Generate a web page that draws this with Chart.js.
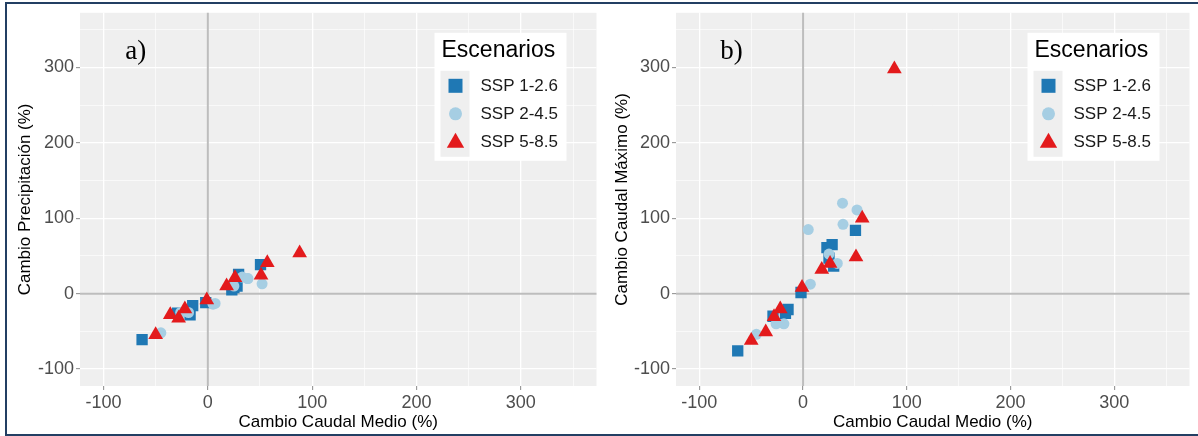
<!DOCTYPE html>
<html>
<head>
<meta charset="utf-8">
<script src="https://cdn.jsdelivr.net/npm/chart.js@4"></script>
<style>
html,body{margin:0;padding:0;background:#ffffff;}
#wrap{position:relative;width:1198px;height:436px;overflow:hidden;background:#fff;}
#ca{position:absolute;left:0;top:0;}
#cb{position:absolute;left:605px;top:0;}
#frame{position:absolute;left:5px;top:2px;width:1200px;height:430px;border:2px solid #233f63;pointer-events:none;}
</style>
</head>
<body>
<div id="wrap">
<canvas id="ca" width="605" height="436"></canvas>
<canvas id="cb" width="593" height="436"></canvas>
<div id="frame"></div>
</div>
<script>
// ---- Data ----
const seriesLabels = ['SSP 1-2.6', 'SSP 2-4.5', 'SSP 5-8.5'];
const legendTitle = 'Escenarios';
const panelLabels = ['a)', 'b)'];
const xTitle = 'Cambio Caudal Medio (%)';
const yTitles = ['Cambio Precipitación (%)', 'Cambio Caudal Máximo (%)'];
const tickValues = [-100, 0, 100, 200, 300];

// SSP 1-2.6
const caudalMedio_126 = [-63, -29, -17, -14.5, -2, 23, 25, 28, 29.5, 50.5];
const precip_126      = [-61, -26, -28, -16, -12, 5, 8, 10, 25.5, 38.5];
const caudalMax_126   = [-76, -30, -26, -21, 1.5, 61, 47, 65, 36.5, 84];
// SSP 2-4.5
const caudalMedio_245 = [-45, -26, -18.5, 5, 7, 25, 33, 38, 38.5, 52];
const precip_245      = [-52, -25, -25, -14, -13, 10, 22, 20, 20, 13];
const caudalMax_245   = [-54, -40, -40, 85, 12.5, 52.5, 40, 120, 92, 111];
// SSP 5-8.5
const caudalMedio_585 = [-50, -36, -28, -22, -1, 18, 26, 51, 57, 88];
const precip_585      = [-54.5, -28, -32.5, -20.5, -8.5, 10, 21, 24.5, 41, 54];
const caudalMax_585   = [-62, -51, -30.5, -20.5, 8, 32, 40, 48.5, 100, 298];

// ---- Styling ----
const FONT = '"Liberation Sans", Arial, Helvetica, sans-serif';
const AXIS_MIN = -122.5, AXIS_MAX = 372.5;
const COLORS = ['#1f78b4', '#a6cee3', '#e31a1c'];
const STYLES = ['rect', 'circle', 'triangle'];
const RADII = [8, 5.5, 8.5];

function pts(xs, ys){ return xs.map((x, i) => ({x: x, y: ys[i]})); }

function drawMarker(ctx, style, cx, cy, s){
  ctx.beginPath();
  if (style === 'rect') {
    ctx.rect(cx - s, cy - s, 2 * s, 2 * s);
  } else if (style === 'circle') {
    ctx.arc(cx, cy, s, 0, Math.PI * 2);
  } else {
    ctx.moveTo(cx, cy - s);
    ctx.lineTo(cx + 0.866 * s, cy + 0.5 * s);
    ctx.lineTo(cx - 0.866 * s, cy + 0.5 * s);
    ctx.closePath();
  }
  ctx.fill();
}

const bgPlugin = {
  id: 'panelBg',
  beforeDraw(chart){
    const {ctx, chartArea: a} = chart;
    ctx.save();
    ctx.fillStyle = '#efefef';
    ctx.fillRect(a.left, a.top, a.right - a.left, a.bottom - a.top);
    ctx.restore();
  }
};

const zeroPlugin = {
  id: 'zeroLines',
  beforeDatasetsDraw(chart){
    const {ctx, chartArea: a, scales} = chart;
    const x0 = scales.x.getPixelForValue(0), y0 = scales.y.getPixelForValue(0);
    ctx.save();
    ctx.strokeStyle = '#bdbdbd';
    ctx.lineWidth = 2;
    ctx.beginPath();
    ctx.moveTo(x0, a.top); ctx.lineTo(x0, a.bottom);
    ctx.moveTo(a.left, y0); ctx.lineTo(a.right, y0);
    ctx.stroke();
    ctx.restore();
  }
};

const legendPlugin = {
  id: 'boxLegend',
  afterDatasetsDraw(chart){
    const {ctx, chartArea: a} = chart;
    const bx = a.right - 162, by = a.top + 20, bw = 132, bh = 128;
    ctx.save();
    ctx.fillStyle = '#ffffff';
    ctx.fillRect(bx, by, bw, bh);
    ctx.fillStyle = '#000000';
    ctx.textAlign = 'left';
    ctx.textBaseline = 'middle';
    ctx.font = '23px ' + FONT;
    ctx.fillText(legendTitle, bx + 7, by + 18);
    ctx.fillStyle = '#efefef';
    ctx.fillRect(bx + 6, by + 38, 29, 86);
    const sizes = [7, 6.5, 10];
    chart.data.datasets.forEach((ds, i) => {
      const cx = bx + 21, cy = by + 53 + 28 * i;
      ctx.fillStyle = ds.backgroundColor;
      drawMarker(ctx, ds.pointStyle, cx, ds.pointStyle === 'triangle' ? cy + 1 : cy, sizes[i]);
      ctx.fillStyle = '#1a1a1a';
      ctx.font = '17px ' + FONT;
      ctx.fillText(ds.label, bx + 46, cy + 1);
    });
    ctx.restore();
  }
};

const panelLabelPlugin = {
  id: 'panelLabel',
  afterDatasetsDraw(chart, args, opts){
    const {ctx, scales} = chart;
    ctx.save();
    ctx.fillStyle = '#000';
    ctx.font = '27px "Liberation Serif", "Times New Roman", serif';
    ctx.textAlign = 'center';
    ctx.textBaseline = 'middle';
    ctx.fillText(opts.text, scales.x.getPixelForValue(-69), scales.y.getPixelForValue(321));
    ctx.restore();
  }
};

function axisCfg(isX, yWidth, titleText, titlePad){
  return {
    type: 'linear',
    min: AXIS_MIN, max: AXIS_MAX,
    afterFit(s){ if (isX) s.height = 50; else s.width = yWidth; },
    border: {display: false},
    grid: {
      color: '#ffffff',
      lineWidth: c => (c.tick && c.tick.value % 100 === 0) ? 1.3 : 0.6,
      tickColor: c => (c.tick && c.tick.value % 100 === 0) ? '#8a8a8a' : 'rgba(0,0,0,0)',
      tickLength: 4,
      tickWidth: 1,
      drawTicks: true
    },
    afterBuildTicks(s){
      const t = [];
      for (let v = -100; v <= 350; v += 50) t.push({value: v});
      s.ticks = t;
    },
    ticks: {
      autoSkip: false, maxRotation: 0, minRotation: 0,
      padding: 2,
      color: '#4d4d4d',
      font: {family: FONT, size: 18},
      callback: v => tickValues.includes(v) ? String(v) : ''
    },
    title: {
      display: true, text: titleText, color: '#000000',
      font: {family: FONT, size: 17},
      padding: isX ? {top: 0, bottom: 3} : {top: titlePad, bottom: 0}
    }
  };
}

function makeChart(id, yTitle, yWidth, titlePad, padRight, yA, yB, yC, label){
  return new Chart(document.getElementById(id), {
    type: 'scatter',
    data: {
      datasets: [
        {label: seriesLabels[0], data: pts(caudalMedio_126, yA), pointStyle: STYLES[0], pointRadius: RADII[0], backgroundColor: COLORS[0], borderWidth: 0, order: 3},
        {label: seriesLabels[1], data: pts(caudalMedio_245, yB), pointStyle: STYLES[1], pointRadius: RADII[1], backgroundColor: COLORS[1], borderWidth: 0, order: 2},
        {label: seriesLabels[2], data: pts(caudalMedio_585, yC), pointStyle: STYLES[2], pointRadius: RADII[2], backgroundColor: COLORS[2], borderWidth: 0, order: 1}
      ]
    },
    options: {
      responsive: false,
      animation: false,
      events: [],
      layout: {padding: {top: 9, right: padRight, left: 0, bottom: 0}},
      scales: {
        x: axisCfg(true, 0, xTitle, 0),
        y: axisCfg(false, yWidth, yTitle, titlePad)
      },
      plugins: {
        legend: {display: false},
        tooltip: {enabled: false},
        panelLabel: {text: label}
      }
    },
    plugins: [bgPlugin, zeroPlugin, legendPlugin, panelLabelPlugin]
  });
}

makeChart('ca', yTitles[0], 80, 15, 2, precip_126, precip_245, precip_585, panelLabels[0]);
makeChart('cb', yTitles[1], 71, 7, 0, caudalMax_126, caudalMax_245, caudalMax_585, panelLabels[1]);
</script>
</body>
</html>
